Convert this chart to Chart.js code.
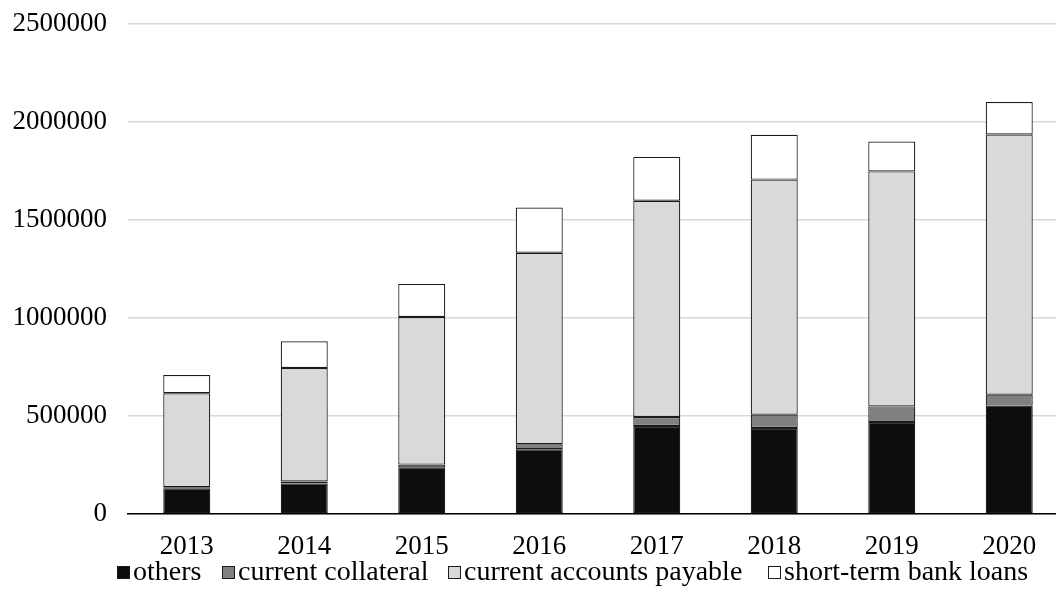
<!DOCTYPE html>
<html>
<head>
<meta charset="utf-8">
<script src="https://cdn.jsdelivr.net/npm/chart.js@4/dist/chart.umd.min.js"></script>
<style>
  html, body { margin: 0; padding: 0; background: #fff; overflow: hidden; }
  #wrap { position: relative; width: 1068px; height: 613px; }
</style>
</head>
<body>
<div id="wrap"><canvas id="c"></canvas></div>
<script>
const years = ['2013', '2014', '2015', '2016', '2017', '2018', '2019', '2020'];
const others = [131000, 156000, 238000, 330000, 449000, 439000, 469000, 553000];
const currentCollateral = [6000, 10000, 14000, 26000, 46000, 68000, 80000, 56000];
const currentAccountsPayable = [479000, 579000, 753000, 977000, 1103000, 1199000, 1199000, 1327000];
const shortTermBankLoans = [93000, 136000, 169000, 231000, 224000, 229000, 152000, 166000];
const yTicks = [0, 500000, 1000000, 1500000, 2000000, 2500000];

const FONT = '"Liberation Serif", "Times New Roman", serif';
const LEGEND_X = [117, 222, 448, 768];
const LEGEND_Y = 573;

function ds(label, data, fill) {
  return {
    label: label,
    data: data,
    backgroundColor: fill,
    borderColor: '#1a1a1a',
    borderWidth: 1.2,
    borderSkipped: false,
    barPercentage: 0.4,
    categoryPercentage: 1.0
  };
}

const legendPlugin = {
  id: 'excelLegend',
  afterDraw(chart) {
    const ctx = chart.ctx;
    ctx.save();
    ctx.font = '28px ' + FONT;
    ctx.textBaseline = 'middle';
    ctx.textAlign = 'left';
    chart.data.datasets.forEach((d, i) => {
      const x = LEGEND_X[i];
      ctx.fillStyle = d.backgroundColor;
      ctx.fillRect(x, LEGEND_Y - 7, 13, 13);
      ctx.strokeStyle = '#1a1a1a';
      ctx.lineWidth = 1;
      ctx.strokeRect(x + 0.5, LEGEND_Y - 6.5, 12, 12);
      ctx.fillStyle = '#000';
      ctx.fillText(d.label, x + 16, LEGEND_Y);
    });
    ctx.restore();
  }
};

new Chart(document.getElementById('c'), {
  type: 'bar',
  data: {
    labels: years,
    datasets: [
      ds('others', others, '#0d0d0d'),
      ds('current collateral', currentCollateral, '#808080'),
      ds('current accounts payable', currentAccountsPayable, '#d9d9d9'),
      ds('short-term bank loans', shortTermBankLoans, '#ffffff')
    ]
  },
  plugins: [legendPlugin],
  options: {
    responsive: true,
    maintainAspectRatio: false,
    animation: false,
    layout: { padding: { top: 24, left: 0, right: 0, bottom: 39 } },
    plugins: {
      tooltip: { enabled: false },
      legend: { display: false }
    },
    scales: {
      x: {
        stacked: true,
        afterFit: (axis) => { axis.height = 60; axis.paddingLeft = 0; axis.paddingRight = 0; },
        grid: { display: false, drawTicks: false },
        border: { display: true, color: '#000', width: 1.5 },
        ticks: { font: { family: FONT, size: 27 }, color: '#000', padding: 17 }
      },
      y: {
        stacked: true,
        min: 0,
        max: 2500000,
        afterBuildTicks: (axis) => { axis.ticks = yTicks.map(v => ({ value: v })); },
        afterFit: (axis) => { axis.width = 128; axis.paddingTop = 0; axis.paddingBottom = 0; },
        grid: { color: '#d9d9d9', lineWidth: 1.5, drawTicks: false },
        border: { display: false },
        ticks: {
          font: { family: FONT, size: 27 }, color: '#000', padding: 21,
          callback: (v) => String(v)
        }
      }
    }
  }
});
</script>
</body>
</html>
